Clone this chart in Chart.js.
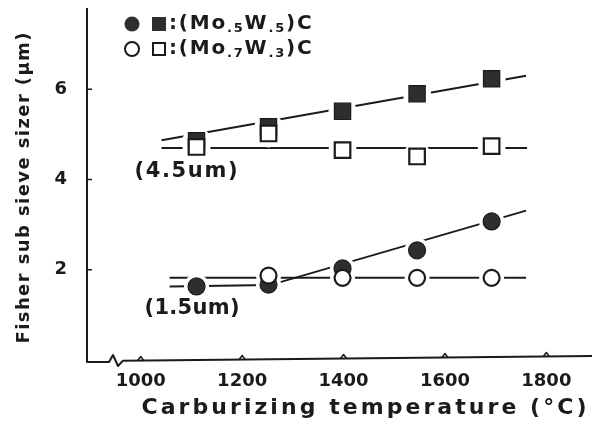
<!DOCTYPE html>
<html>
<head>
<meta charset="utf-8">
<script src="https://cdn.jsdelivr.net/npm/chart.js@4/dist/chart.umd.min.js"></script>
<style>html,body{margin:0;padding:0;background:#fff}canvas{display:block}</style>
</head>
<body>
<canvas id="c" width="601" height="426"></canvas>
<script>
// ---- data ----
const temps    = [1110, 1252, 1398, 1545, 1692];          // carburizing temperature (°C)
const sqFilled = [4.86, 5.17, 5.51, 5.90, 6.23];          // 4.5um start, (Mo.5W.5)C
const sqOpen   = [4.72, 5.02, 4.65, 4.51, 4.74];          // 4.5um start, (Mo.7W.3)C
const ciFilled = [1.63, 1.67, 2.03, 2.43, 3.07];          // 1.5um start, (Mo.5W.5)C
const ciOpen   = [null, 1.87, 1.82, 1.82, 1.82];          // 1.5um start, (Mo.7W.3)C

// guide lines drawn in the figure
const sqFilledLineT = [1041, 1760], sqFilledLineV = [4.87, 6.30];
const sqOpenLineT   = [1041, 1762], sqOpenLineV   = [4.70, 4.70];
const ciFilledLineT = [1057, 1255, 1760], ciFilledLineV = [1.63, 1.66, 3.31];
const ciOpenLineT   = [1057, 1760], ciOpenLineV   = [1.82, 1.82];

const xTicks = [1000, 1200, 1400, 1600, 1800];
const yTicks = [2, 4, 6];
const legendRows = [
  [":(Mo", ".5", "W", ".5", ")C"],
  [":(Mo", ".7", "W", ".3", ")C"]
];
const annotations = ["(4.5um)", "(1.5um)"];
const xTitle = "Carburizing temperature (°C)";
const yTitle = "Fisher sub sieve sizer (μm)";

// ---- styling ----
const INK = '#1b1b1b';
const FILL = '#2e2e2e';
const FONT = '"DejaVu Sans", "Liberation Sans", sans-serif';

const pts = (xs, ys) => xs.map((x, i) => ({x: x, y: ys[i]})).filter(p => p.y != null);

function lineDs(xs, ys) {
  return {data: pts(xs, ys), showLine: true, borderColor: INK, borderWidth: 2,
          pointRadius: 0, fill: false, order: 10};
}
function haloDs(ys, r) {
  return {data: pts(temps, ys), showLine: false, pointStyle: 'circle', pointRadius: r,
          pointBackgroundColor: '#fff', pointBorderWidth: 0, pointBorderColor: '#fff', order: 6};
}
function markDs(ys, style, r, filled, order) {
  return {data: pts(temps, ys), showLine: false, pointStyle: style, pointRadius: r,
          pointBackgroundColor: filled ? FILL : '#fff', pointBorderColor: INK,
          pointBorderWidth: filled ? 1.2 : 2.2, order: order};
}

const datasets = [
  lineDs(sqFilledLineT, sqFilledLineV),
  lineDs(sqOpenLineT, sqOpenLineV),
  lineDs(ciFilledLineT, ciFilledLineV),
  lineDs(ciOpenLineT, ciOpenLineV),
  haloDs(sqFilled, 14), haloDs(sqOpen, 14), haloDs(ciFilled, 12.5), haloDs(ciOpen, 12.5),
  markDs(sqFilled, 'rect', 11.5, true, 3),
  markDs(ciFilled, 'circle', 8.5, true, 3),
  markDs(sqOpen, 'rect', 11, false, 1),
  markDs(ciOpen, 'circle', 8, false, 1)
];

function spacedText(ctx, text, cx, cy, target) {
  const chars = Array.from(text);
  const ws = chars.map(c => ctx.measureText(c).width);
  const sum = ws.reduce((a, b) => a + b, 0);
  const gap = chars.length > 1 ? (target - sum) / (chars.length - 1) : 0;
  let x = cx - target / 2;
  ctx.textAlign = 'left';
  ctx.textBaseline = 'middle';
  chars.forEach((c, i) => { ctx.fillText(c, x, cy); x += ws[i] + gap; });
}
function gapText(ctx, text, x, y, gap) {
  Array.from(text).forEach(c => { ctx.fillText(c, x, y); x += ctx.measureText(c).width + gap; });
  return x;
}

const decor = {
  id: 'decor',
  beforeDatasetsDraw(chart) {
    const ctx = chart.ctx;
    const {left, top, right, bottom} = chart.chartArea;
    const xs = chart.scales.x, ys = chart.scales.y;
    const yL = bottom + 1, yR = bottom - 4;
    const axisY = x => yL + (yR - yL) * (x - left) / (right - left);
    ctx.save();
    ctx.strokeStyle = INK;
    ctx.lineWidth = 2;
    ctx.lineJoin = 'round';
    ctx.beginPath();
    ctx.moveTo(left, top);
    ctx.lineTo(left, yL + 1);
    ctx.lineTo(left + 22, yL + 1);
    ctx.lineTo(left + 26, yL - 6);
    ctx.lineTo(left + 31, yL + 5);
    ctx.lineTo(left + 36, axisY(left + 36));
    ctx.lineTo(right, yR);
    ctx.stroke();
    ctx.lineWidth = 1.5;
    yTicks.forEach(v => {
      const y = ys.getPixelForValue(v);
      ctx.beginPath(); ctx.moveTo(left, y); ctx.lineTo(left + 5, y); ctx.stroke();
    });
    xTicks.forEach(v => {
      const x = xs.getPixelForValue(v);
      const y = axisY(x);
      ctx.beginPath(); ctx.moveTo(x - 3, y); ctx.lineTo(x, y - 4); ctx.lineTo(x + 3, y); ctx.stroke();
    });
    ctx.restore();
  },
  afterDatasetsDraw(chart) {
    const ctx = chart.ctx;
    ctx.save();
    ctx.fillStyle = INK;
    ctx.strokeStyle = INK;
    // legend
    const rowsY = [24, 49];
    rowsY.forEach((ry, i) => {
      const filled = i === 0;
      ctx.lineWidth = 2;
      ctx.beginPath(); ctx.arc(132, ry, filled ? 7.5 : 7, 0, Math.PI * 2);
      if (filled) { ctx.fillStyle = FILL; ctx.fill(); } else { ctx.fillStyle = '#fff'; ctx.fill(); ctx.stroke(); }
      if (filled) { ctx.fillStyle = FILL; ctx.fillRect(152, ry - 7, 14, 14); }
      else { ctx.fillStyle = '#fff'; ctx.fillRect(152, ry - 7, 14, 14); ctx.strokeRect(153, ry - 6, 12, 12); }
      ctx.fillStyle = INK;
      let x = 169;
      ctx.textAlign = 'left';
      ctx.textBaseline = 'middle';
      legendRows[i].forEach((part, k) => {
        const sub = k % 2 === 1;
        ctx.font = sub ? 'bold 13px ' + FONT : 'bold 20px ' + FONT;
        x = gapText(ctx, part, x, sub ? ry + 5 : ry, 1.8);
      });
    });
    // start-size annotations
    ctx.font = 'bold 21px ' + FONT;
    spacedText(ctx, annotations[0], 186, 172, 103);
    spacedText(ctx, annotations[1], 192, 309, 95);
    // axis titles
    ctx.font = 'bold 22px ' + FONT;
    spacedText(ctx, xTitle, 364, 408, 445);
    ctx.save();
    ctx.translate(24, 188);
    ctx.rotate(-Math.PI / 2);
    ctx.font = 'bold 18px ' + FONT;
    spacedText(ctx, yTitle, 0, 0, 311);
    ctx.restore();
    ctx.restore();
  }
};

new Chart(document.getElementById('c'), {
  type: 'scatter',
  data: {datasets: datasets},
  options: {
    responsive: false,
    animation: false,
    devicePixelRatio: 1,
    layout: {autoPadding: false, padding: {top: 8, right: 9, left: 0, bottom: 0}},
    plugins: {legend: {display: false}, tooltip: {enabled: false}},
    scales: {
      x: {
        type: 'linear', min: 894, max: 1890,
        afterBuildTicks: s => { s.ticks = xTicks.map(v => ({value: v})); },
        afterFit: s => { s.height = 66; s.paddingLeft = 0; s.paddingRight = 0; },
        grid: {display: false}, border: {display: false},
        ticks: {font: {family: FONT, weight: 'bold', size: 18, lineHeight: 0.8}, color: INK, padding: 6,
                maxRotation: 0, autoSkip: false, callback: v => String(v)}
      },
      y: {
        type: 'linear', min: 0, max: 7.8,
        afterBuildTicks: s => { s.ticks = yTicks.map(v => ({value: v})); },
        afterFit: s => { s.width = 87; s.paddingTop = 0; s.paddingBottom = 0; },
        grid: {display: false}, border: {display: false},
        ticks: {font: {family: FONT, weight: 'bold', size: 18, lineHeight: 0.8}, color: INK, padding: 12,
                callback: v => String(v)}
      }
    }
  },
  plugins: [decor]
});
</script>
</body>
</html>
